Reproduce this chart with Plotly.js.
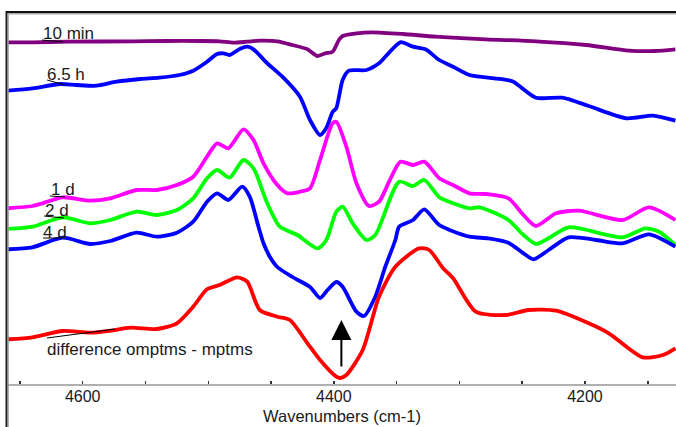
<!DOCTYPE html>
<html>
<head>
<meta charset="utf-8">
<script src="https://cdn.plot.ly/plotly-3.0.1.min.js"></script>
<style>html,body{margin:0;padding:0;background:#fff;}#chart{width:676px;height:427px;}</style>
</head>
<body>
<div id="chart"></div>
<script>
// Wavenumbers (cm-1) and absorbance (arbitrary offset units)
const wn10min = [4660,4640,4612,4560,4533,4507,4491,4480,4469,4459,4445,4433,4421,4413,4407,4401,4396,4393,4382,4369,4345,4319,4279,4239,4199,4165,4144,4128];
const ab10min = [3.417,3.417,3.423,3.427,3.43,3.43,3.427,3.413,3.423,3.433,3.427,3.39,3.347,3.28,3.307,3.323,3.44,3.48,3.507,3.517,3.5,3.473,3.447,3.427,3.39,3.333,3.33,3.347];

const wn65h = [4660,4640,4618,4605,4589,4573,4554,4539,4523,4512,4501,4493,4488,4483,4475,4469,4464,4453,4441,4427,4419,4411,4406,4401,4398,4393,4388,4374,4364,4347,4337,4327,4316,4305,4292,4265,4257,4239,4218,4197,4167,4146,4128];
const ab65h = [2.933,2.957,3.0,2.99,2.983,3.023,3.05,3.063,3.09,3.133,3.223,3.3,3.307,3.29,3.35,3.373,3.347,3.207,3.073,2.873,2.64,2.49,2.56,2.72,2.76,3.04,3.133,3.14,3.207,3.417,3.373,3.347,3.24,3.173,3.09,3.047,3.023,2.863,2.863,2.78,2.657,2.683,2.633];

const wn1d = [4660,4640,4632,4616,4594,4578,4557,4541,4525,4512,4501,4493,4484,4472,4464,4456,4445,4437,4427,4419,4411,4401,4398,4390,4382,4372,4364,4356,4347,4337,4328,4316,4305,4292,4279,4261,4249,4239,4223,4205,4170,4149,4128];
const ab1d = [1.757,1.78,1.807,1.867,1.833,1.857,1.94,1.94,1.99,2.073,2.273,2.407,2.357,2.547,2.44,2.207,1.99,1.907,1.923,1.957,2.24,2.607,2.623,2.373,2.007,1.78,1.823,2.023,2.223,2.19,2.223,2.057,1.99,1.907,1.9,1.857,1.69,1.58,1.707,1.733,1.64,1.767,1.64];

const wn2d = [4660,4640,4616,4594,4578,4557,4541,4525,4512,4501,4493,4483,4472,4464,4453,4443,4429,4413,4406,4398,4393,4385,4374,4367,4348,4337,4328,4316,4305,4292,4284,4261,4249,4239,4229,4213,4170,4152,4141,4128];
const ab2d = [1.55,1.573,1.667,1.607,1.64,1.723,1.69,1.74,1.857,2.057,2.14,2.063,2.24,2.157,1.807,1.573,1.49,1.357,1.44,1.723,1.773,1.607,1.44,1.49,2.023,1.98,2.04,1.867,1.807,1.757,1.767,1.64,1.49,1.4,1.457,1.567,1.467,1.557,1.523,1.39];

const wn4d = [4660,4640,4616,4594,4578,4557,4541,4525,4512,4501,4493,4484,4473,4467,4460,4456,4451,4445,4433,4419,4411,4405,4398,4393,4382,4376,4367,4359,4351,4348,4337,4328,4316,4292,4277,4261,4249,4241,4229,4213,4191,4170,4149,4128];
const ab4d = [1.347,1.367,1.463,1.4,1.43,1.513,1.473,1.513,1.623,1.823,1.907,1.84,1.973,1.873,1.573,1.407,1.273,1.17,1.07,0.97,0.86,0.94,1.02,0.973,0.723,0.68,0.873,1.173,1.44,1.573,1.64,1.747,1.59,1.473,1.457,1.413,1.307,1.247,1.34,1.467,1.44,1.407,1.497,1.373];

const wnDiff = [4660,4640,4616,4594,4578,4562,4541,4525,4512,4501,4491,4477,4469,4459,4445,4435,4421,4411,4398,4395,4390,4377,4364,4351,4332,4324,4313,4305,4287,4263,4245,4223,4197,4181,4154,4138,4128];
const abDiff = [0.447,0.467,0.53,0.513,0.533,0.563,0.55,0.607,0.773,0.947,0.99,1.067,1.023,0.74,0.673,0.64,0.407,0.24,0.073,0.06,0.09,0.34,0.873,1.173,1.357,1.34,1.157,1.057,0.723,0.69,0.74,0.733,0.607,0.507,0.267,0.29,0.357];

const seriesNames = ['10 min','6.5 h','1 d','2 d','4 d','difference omptms - mptms'];
const seriesColors = ['#800080','#0000ff','#ff00ff','#00ff00','#0000ff','#ff0000'];
const xTickVals = [4600,4400,4200];
const xTitle = 'Wavenumbers (cm-1)';

const xs = [wn10min, wn65h, wn1d, wn2d, wn4d, wnDiff];
const ys = [ab10min, ab65h, ab1d, ab2d, ab4d, abDiff];

const traces = xs.map((x, i) => ({
  x: x, y: ys[i], type: 'scatter', mode: 'lines', name: seriesNames[i],
  line: {color: seriesColors[i], width: 3.8, shape: 'spline', smoothing: 0.7},
  hoverinfo: 'skip'
}));

const font = {family: 'Liberation Sans, Arial, sans-serif', size: 17, color: '#1a1a1a'};
const tickFont = {family: 'Liberation Sans, Arial, sans-serif', size: 16, color: '#1a1a1a'};

// label anchor positions (wavenumber, absorbance)
const labelPos = [[4633, 3.51],[4630, 3.10],[4627, 1.95],[4632, 1.74],[4633, 1.52],[4630, 0.35]];
const leaders = [
  [4632.4,3.44,4615.7,3.42],
  [4628.4,3.04,4614.1,2.99],
  [4626.1,1.88,4614.1,1.87],
  [4630.8,1.68,4614.9,1.66],
  [4631.6,1.46,4615.7,1.46],
  [4628.4,0.46,4574.3,0.55]
];

const annotations = seriesNames.map((t, i) => ({
  x: labelPos[i][0], y: labelPos[i][1], xref: 'x', yref: 'y', text: t,
  showarrow: false, xanchor: 'left', yanchor: 'middle', font: font
}));
annotations.push({
  x: 4394, y: 0.64, xref: 'x', yref: 'y', text: '', showarrow: true,
  ax: 0, ay: 48, arrowhead: 2, arrowsize: 2, arrowwidth: 2, arrowcolor: '#000'
});
// axis title
annotations.push({
  x: 0.5, y: -0.086, xref: 'paper', yref: 'paper', text: xTitle, showarrow: false,
  xanchor: 'center', yanchor: 'middle', font: {family: font.family, size: 16.5, color: '#1a1a1a'}
});

const shapes = leaders.map(l => ({
  type: 'line', xref: 'x', yref: 'y', x0: l[0], y0: l[1], x1: l[2], y1: l[3],
  line: {color: '#000', width: 1}
}));
// frame lines (left and top)
shapes.push({type:'line', xref:'paper', yref:'paper', x0:-0.0022, x1:-0.0022, y0:1.003, y1:-0.12, line:{color:'#1a1a1a', width:2}});
shapes.push({type:'line', xref:'paper', yref:'paper', x0:0.0003, x1:0.0003, y0:0.997, y1:-0.12, line:{color:'#9a9a9a', width:1.2}});
shapes.push({type:'line', xref:'paper', yref:'paper', x0:-0.003, x1:1.01, y0:1.0, y1:1.0, line:{color:'#111', width:2}});
shapes.push({type:'line', xref:'paper', yref:'paper', x0:0.0, x1:1.01, y0:0.995, y1:0.995, line:{color:'#aaa', width:1.5}});

const layout = {
  width: 676, height: 427,
  margin: {l: 8, r: 0, t: 12, b: 43, pad: 0},
  paper_bgcolor: '#fff', plot_bgcolor: '#fff',
  showlegend: false,
  xaxis: {
    range: [4659.5, 4127.5], tickvals: xTickVals, ticktext: xTickVals.map(String),
    ticks: 'inside', ticklen: 3, tickwidth: 1.5, tickcolor: '#333',
    minor: {dtick: 50, tick0: 4150, ticks: 'inside', ticklen: 3, tickwidth: 1.5, tickcolor: '#333', showgrid: false},
    showline: true, linecolor: '#b0b0b0', linewidth: 2, showgrid: false, zeroline: false,
    tickfont: tickFont, ticklabelstandoff: -3,
    fixedrange: true
  },
  yaxis: {range: [0, 3.72], visible: false, fixedrange: true},
  annotations: annotations,
  shapes: shapes
};

Plotly.newPlot('chart', traces, layout, {displayModeBar: false, staticPlot: true});
</script>
</body>
</html>
